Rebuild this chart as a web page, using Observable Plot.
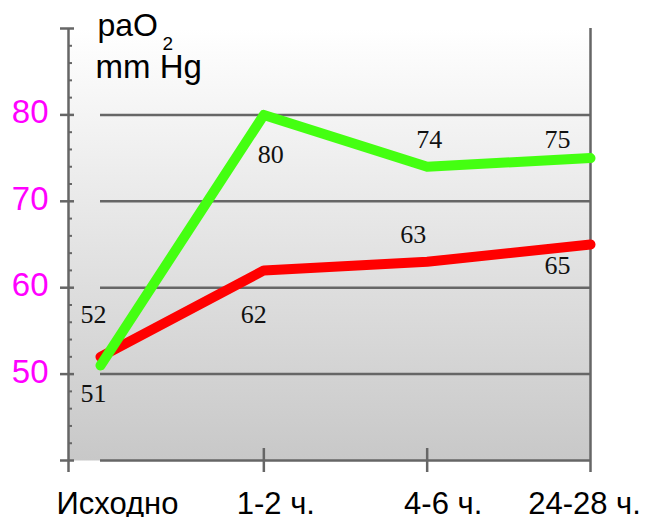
<!DOCTYPE html>
<html>
<head>
<meta charset="utf-8">
<script src="https://cdn.jsdelivr.net/npm/d3@7"></script>
<script src="https://cdn.jsdelivr.net/npm/@observablehq/plot@0.6"></script>
<style>
  html, body { margin: 0; padding: 0; background: #ffffff; }
  #chart { width: 645px; height: 517px; overflow: hidden; }
</style>
</head>
<body>
<div id="chart"></div>
<script>
// ---- data ----
const categories = ["Исходно", "1-2 ч.", "4-6 ч.", "24-28 ч."];
const greenValues = [51, 80, 74, 75];
const redValues = [52, 62, 63, 65];
const yTickLabels = [50, 60, 70, 80];
const yMajorTicks = [40, 50, 60, 70, 80, 90];
const yMinorTicks = [42, 44, 46, 48, 52, 54, 56, 58, 62, 64, 66, 68, 72, 74, 76, 78, 82, 84, 86, 88];
const titleMain = "paO";
const titleSub = "2";
const titleUnit = "mm Hg";

// ---- build tables ----
const greenData = categories.map((c, i) => ({i, c, v: greenValues[i]}));
const redData = categories.map((c, i) => ({i, c, v: redValues[i]}));
const last = categories.length - 1;
const xmin = -0.196; // axis origin left of first category

const axisColor = "#666666";
const sans = "'Liberation Sans', Arial, sans-serif";
const serif = "'Liberation Serif', 'Times New Roman', serif";

function valLabel(data, i, dx, dy) {
  return Plot.text([data[i]], {
    x: "i", y: "v", text: d => String(d.v), dx, dy,
    fontFamily: serif, fontSize: 26, fill: "#111", lineAnchor: "middle"
  });
}
function xLabel(i, dx) {
  return Plot.text([categories[i]], {
    x: () => i, y: () => 40, text: d => d, dx, dy: 43.1,
    fontFamily: sans, fontSize: 31, fill: "#000", lineAnchor: "middle"
  });
}

const svg = Plot.plot({
  width: 645,
  height: 517,
  marginTop: 28,
  marginBottom: 57,
  marginLeft: 68,
  marginRight: 55,
  style: {background: "transparent", overflow: "visible", fontFamily: sans},
  x: {type: "linear", domain: [xmin, last], axis: null},
  y: {type: "linear", domain: [40, 90], axis: null},
  marks: [
    Plot.frame({fill: "url(#bgGrad)", stroke: "none"}),
    // grid lines
    Plot.ruleY(yTickLabels, {x1: 0, x2: last, stroke: axisColor, strokeWidth: 2.5}),
    // bottom axis line
    Plot.ruleY([40], {x1: 0, x2: last, stroke: axisColor, strokeWidth: 2.5}),
    // right border
    Plot.ruleX([last], {insetBottom: -12, stroke: axisColor, strokeWidth: 2.5}),
    // y axis line
    Plot.ruleX([xmin], {insetBottom: -12, stroke: axisColor, strokeWidth: 2.5}),
    // x ticks
    Plot.ruleX([1, 2], {y1: 40, y2: 40, insetTop: -12, insetBottom: -12, stroke: axisColor, strokeWidth: 2.5}),
    // y ticks
    Plot.ruleY(yMajorTicks, {x1: xmin, x2: xmin, insetLeft: -8, insetRight: -6, stroke: axisColor, strokeWidth: 2.5}),
    Plot.ruleY(yMinorTicks, {x1: xmin, x2: xmin, insetRight: -4, stroke: axisColor, strokeWidth: 2}),
    // y tick labels
    Plot.text(yTickLabels, {x: () => xmin, y: d => d, text: d => String(d), dx: -20, dy: -2,
      textAnchor: "end", lineAnchor: "middle", fill: "#ff00ff", fontSize: 33, fontFamily: sans}),
    // lines
    Plot.line(redData, {x: "i", y: "v", stroke: "#ff0000", strokeWidth: 10, strokeLinecap: "round", strokeLinejoin: "round"}),
    Plot.line(greenData, {x: "i", y: "v", stroke: "#44ff11", strokeWidth: 10, strokeLinecap: "round", strokeLinejoin: "round"}),
    // value labels
    valLabel(greenData, 0, -7, 28.7),
    valLabel(redData, 0, -7, -42.6),
    valLabel(greenData, 1, 7, 39.3),
    valLabel(redData, 1, -10, 43.8),
    valLabel(greenData, 2, 2, -27.5),
    valLabel(redData, 2, -14, -27.6),
    valLabel(greenData, 3, -33, -18.9),
    valLabel(redData, 3, -33, 20.7),
    // x labels
    xLabel(0, 17),
    xLabel(1, 12),
    xLabel(2, 16),
    xLabel(3, -6),
    // title
    Plot.text([titleMain], {frameAnchor: "top-left", text: d => d, dx: 29, dy: -3.2, textAnchor: "start",
      lineAnchor: "middle", fontSize: 32, fontFamily: sans, fill: "#000"}),
    Plot.text([titleSub], {frameAnchor: "top-left", text: d => d, dx: 94, dy: 15.9, textAnchor: "start",
      lineAnchor: "middle", fontSize: 19, fontFamily: sans, fill: "#000"}),
    Plot.text([titleUnit], {frameAnchor: "top-left", text: d => d, dx: 27, dy: 39.4, textAnchor: "start",
      lineAnchor: "middle", fontSize: 33, fontFamily: sans, fill: "#000"})
  ]
});

svg.insertAdjacentHTML("afterbegin",
  '<defs><linearGradient id="bgGrad" x1="0" y1="0" x2="0" y2="1">' +
  '<stop offset="0" stop-color="#ffffff"/><stop offset="1" stop-color="#c8c8c8"/>' +
  '</linearGradient></defs>');
document.getElementById("chart").appendChild(svg);
</script>
</body>
</html>
